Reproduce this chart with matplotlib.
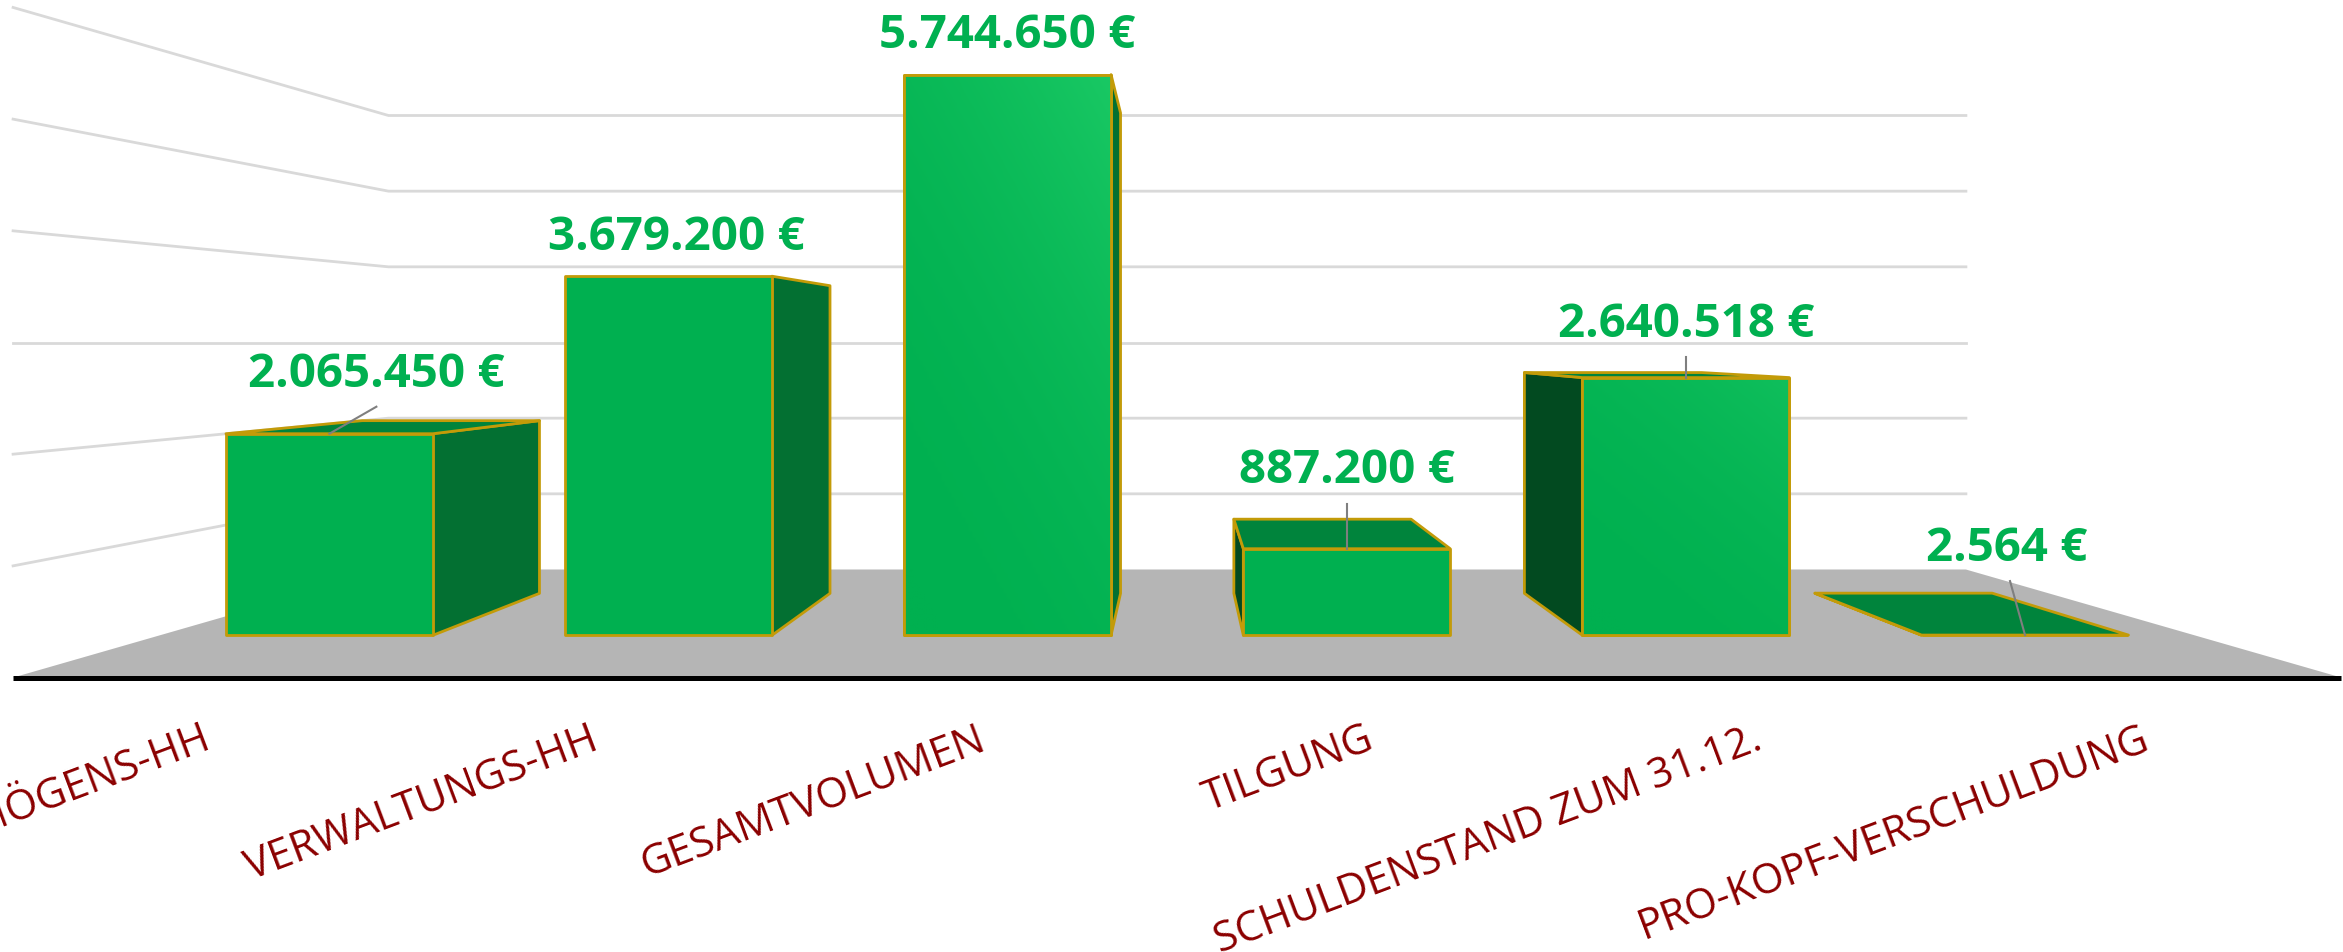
import matplotlib

matplotlib.use("Agg")

import matplotlib.pyplot as plt
import numpy as np
from matplotlib.colors import LinearSegmentedColormap
from matplotlib.patches import Polygon


# Values.
CATEGORIES = [
    "VERMÖGENS-HH",
    "VERWALTUNGS-HH",
    "GESAMTVOLUMEN",
    "TILGUNG",
    "SCHULDENSTAND ZUM 31.12.",
    "PRO-KOPF-VERSCHULDUNG",
]
VALUES = [2065450, 3679200, 5744650, 887200, 2640518, 2564]
VALUE_LABELS = [
    "2.065.450 €",
    "3.679.200 €",
    "5.744.650 €",
    "887.200 €",
    "2.640.518 €",
    "2.564 €",
]
GRID_VALUES = [1000000, 2000000, 3000000, 4000000, 5000000, 6000000]
AXIS_MAX = 6000000

# Label offsets from the top centre of a bar, in pixels.
LABEL_OFFSETS = [(47, -60), (8, -40), (0, -40), (0, -79), (0, -54), (-18, -88)]
LEADER_OFFSETS = [(47, -27), None, None, (0, -45), (0, -21), (-15, -54)]
GRADIENT_STRENGTH = {2: 0.9, 4: 0.55}

# Perspective box, pixels of the output image.
WIDTH, HEIGHT = 2343, 953
CENTER_X = 1177.2
HORIZON_Y = 343.5
CATEGORY_WIDTH = 262.9
FLOOR_DROP = 227.0
WALL_HEIGHT = 454.0
FRONT_SCALE = 1.476
BAR_WIDTH = 0.61
BAR_FRONT = 0.303
BAR_BACK = 0.705

GREEN = "#00B050"
GREEN_LIGHT = "#1CCB66"
TOP_GREEN = "#00843C"
RIGHT_SIDE = "#037032"
LEFT_SIDE = "#024A20"
GOLD = "#C39B08"
GRID = "#D9D9D9"
FLOOR = "#B5B5B5"
LABEL_RED = "#8B0000"
LEADER = "#7F7F7F"


def project(x, value, depth):
    """Maps category position, value and depth to image pixels."""
    scale = FRONT_SCALE / (1 + (FRONT_SCALE - 1) * depth)
    screen_x = CENTER_X + (x - 3) * CATEGORY_WIDTH * scale
    screen_y = HORIZON_Y + (FLOOR_DROP - value / AXIS_MAX * WALL_HEIGHT) * scale
    return screen_x, screen_y


def draw_walls(axis):
    floor = [project(0, 0, 0), project(6, 0, 0), project(6, 0, 1), project(0, 0, 1)]
    axis.add_patch(Polygon(floor, facecolor=FLOOR, edgecolor="none", zorder=2))

    for value in GRID_VALUES:
        points = [project(0, value, 0), project(0, value, 1), project(6, value, 1)]
        xs, ys = zip(*points)
        axis.plot(xs, ys, color=GRID, linewidth=2.0, zorder=1)

    xs, ys = zip(project(0, 0, 0), project(6, 0, 0))
    axis.plot(xs, ys, color="black", linewidth=3.6, zorder=20, solid_capstyle="butt")


def draw_face(axis, points, color, zorder):
    patch = Polygon(
        points,
        closed=True,
        facecolor=color,
        edgecolor=GOLD,
        linewidth=2.0,
        joinstyle="round",
        zorder=zorder,
    )
    axis.add_patch(patch)
    return patch


def draw_gradient(axis, patch, strength, left, right, top, bottom, zorder):
    """Front face with the light top right corner."""
    colormap = LinearSegmentedColormap.from_list("front", [GREEN, GREEN_LIGHT])
    grid_x, grid_y = np.meshgrid(np.linspace(0, 1, 60), np.linspace(0, 1, 200))
    shade = np.clip(grid_x * 0.4 + (1 - grid_y) * 0.6, 0, 1) ** 2.2 * strength
    image = axis.imshow(
        shade,
        extent=(left, right, bottom, top),
        cmap=colormap,
        vmin=0,
        vmax=1,
        aspect="auto",
        interpolation="bilinear",
        zorder=zorder,
    )
    image.set_clip_path(patch)


def draw_bar(axis, index, value):
    left = index + 0.5 - BAR_WIDTH / 2
    right = index + 0.5 + BAR_WIDTH / 2
    order = 10 - (5 + abs(index - 2.5)) / 2

    # Which side shows depends on the position against the centre.
    if index < 3:
        side_x, side_color = right, RIGHT_SIDE
    else:
        side_x, side_color = left, LEFT_SIDE
    side = [
        project(side_x, 0, BAR_FRONT),
        project(side_x, value, BAR_FRONT),
        project(side_x, value, BAR_BACK),
        project(side_x, 0, BAR_BACK),
    ]
    draw_face(axis, side, side_color, order)

    top = [
        project(left, value, BAR_FRONT),
        project(right, value, BAR_FRONT),
        project(right, value, BAR_BACK),
        project(left, value, BAR_BACK),
    ]
    if project(0, value, BAR_FRONT)[1] > HORIZON_Y:
        draw_face(axis, top, TOP_GREEN, order + 0.1)

    front = [
        project(left, 0, BAR_FRONT),
        project(right, 0, BAR_FRONT),
        project(right, value, BAR_FRONT),
        project(left, value, BAR_FRONT),
    ]
    patch = draw_face(axis, front, GREEN, order + 0.2)
    if index in GRADIENT_STRENGTH:
        draw_gradient(
            axis,
            patch,
            GRADIENT_STRENGTH[index],
            front[0][0],
            front[1][0],
            front[2][1],
            front[0][1],
            order + 0.25,
        )
        draw_face(axis, front, "none", order + 0.3)


def draw_value_label(axis, index, value):
    top_x, top_y = project(index + 0.5, value, BAR_FRONT)
    offset_x, offset_y = LABEL_OFFSETS[index]
    axis.text(
        top_x + offset_x,
        top_y + offset_y,
        VALUE_LABELS[index],
        color=GREEN,
        fontsize=34.2,
        fontweight="bold",
        family="Open Sans",
        ha="center",
        va="center",
        zorder=30,
    )

    if LEADER_OFFSETS[index] is not None:
        leader_x, leader_y = LEADER_OFFSETS[index]
        axis.plot(
            [top_x + leader_x, top_x],
            [top_y + leader_y, top_y],
            color=LEADER,
            linewidth=1.5,
            zorder=25,
        )


def draw_category_label(axis, index):
    tick_x, _ = project(index + 0.5, 0, 0)
    axis.text(
        tick_x + 1,
        738,
        CATEGORIES[index],
        color=LABEL_RED,
        fontsize=30,
        family="Open Sans",
        rotation=20.6,
        rotation_mode="anchor",
        ha="right",
        va="center",
        zorder=30,
    )


def main():
    fig = plt.figure(figsize=(WIDTH / 100, HEIGHT / 100), dpi=100)
    axis = fig.add_axes([0, 0, 1, 1])

    draw_walls(axis)
    for index, value in enumerate(VALUES):
        draw_bar(axis, index, value)
        draw_value_label(axis, index, value)
        draw_category_label(axis, index)

    axis.set_xlim(0, WIDTH)
    axis.set_ylim(HEIGHT, 0)
    axis.axis("off")

    fig.savefig("out.png", dpi=100)
    plt.close(fig)


if __name__ == "__main__":
    main()
